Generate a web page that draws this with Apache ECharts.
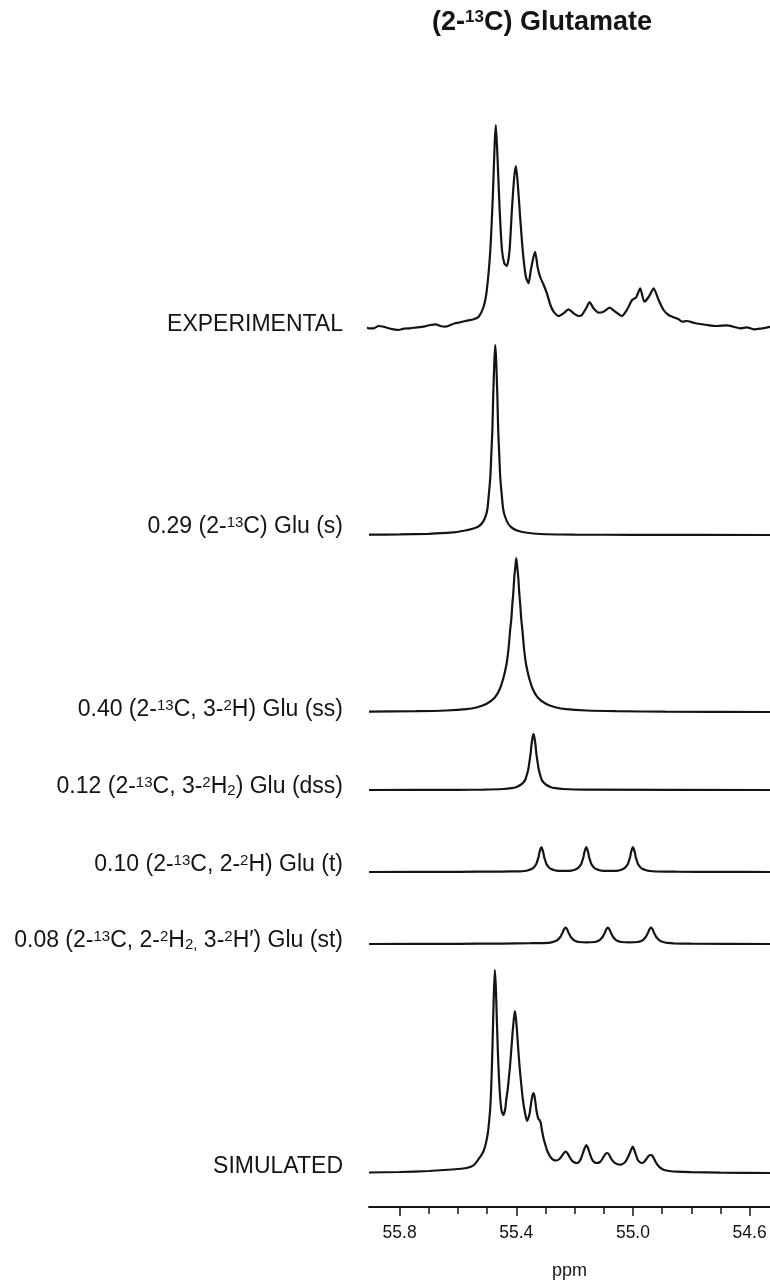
<!DOCTYPE html>
<html><head><meta charset="utf-8">
<script src="https://cdn.jsdelivr.net/npm/echarts@6/dist/echarts.min.js"></script>
<style>html,body{margin:0;padding:0;background:#fff}#c{width:770px;height:1282px}</style>
</head><body><div id="c"></div>
<script>
// ---- DATA (ppm, intensity) ----
const chartTitle = '{t|(2-}{ts|13}{t|C) Glutamate}';
const traceLabels = [
  '{n|EXPERIMENTAL}',
  '{n|0.29 (2-}{sup|13}{n|C) Glu (s)}',
  '{n|0.40 (2-}{sup|13}{n|C, 3-}{sup|2}{n|H) Glu (ss)}',
  '{n|0.12 (2-}{sup|13}{n|C, 3-}{sup|2}{n|H}{sub|2}{n|) Glu (dss)}',
  '{n|0.10 (2-}{sup|13}{n|C, 2-}{sup|2}{n|H) Glu (t)}',
  '{n|0.08 (2-}{sup|13}{n|C, 2-}{sup|2}{n|H}{sub|2,}{n| 3-}{sup|2}{n|H\u2032) Glu (st)}',
  '{n|SIMULATED}'
];
const axisName = 'ppm';
const tickValues = [55.8, 55.4, 55.0, 54.6];
const minorTickValues = [55.8, 55.7, 55.6, 55.5, 55.4, 55.3, 55.2, 55.1, 55.0, 54.9, 54.8, 54.7, 54.6];

const expData = [[55.923,3.3],[55.906,1.7],[55.889,1.7],[55.872,4.0],[55.855,3.3],[55.838,1.7],[55.821,0.7],[55.804,0],[55.786,1.3],[55.763,1.7],[55.741,2.7],[55.718,3.3],[55.695,5.0],[55.675,5.7],[55.661,4.0],[55.643,3.3],[55.626,5.0],[55.610,6.7],[55.598,7.3],[55.586,8.3],[55.569,9.3],[55.546,10.7],[55.529,13.3],[55.512,23.3],[55.501,40],[55.489,80],[55.480,137],[55.474,187],[55.470,205],[55.464,170],[55.457,120],[55.449,80],[55.441,66.7],[55.432,64],[55.423,80],[55.415,120],[55.407,153],[55.401,164],[55.394,143],[55.386,110],[55.377,76.7],[55.367,53],[55.358,46.7],[55.350,60],[55.341,73],[55.335,78],[55.327,63],[55.318,53],[55.306,45],[55.295,36.7],[55.283,25],[55.272,18.3],[55.255,14],[55.238,16.7],[55.221,20.7],[55.203,16.7],[55.186,14],[55.175,15],[55.158,23],[55.149,28],[55.135,21.7],[55.118,17.3],[55.101,18.3],[55.080,22.3],[55.061,18.3],[55.038,14],[55.021,20],[55.003,30],[54.989,32.7],[54.975,41.7],[54.961,28.3],[54.946,33],[54.929,41.7],[54.912,30],[54.895,20],[54.878,15],[54.861,12.7],[54.843,10.7],[54.832,8.3],[54.815,9],[54.792,7.3],[54.769,6],[54.746,5],[54.712,4],[54.678,4.7],[54.655,3.3],[54.632,1.7],[54.609,2.7],[54.586,0.7],[54.564,1.3],[54.529,3.3]];

const sData = [[55.905,0.3],[55.80,0.6],[55.70,1.2],[55.626,2.3],[55.575,4.5],[55.547,6.5],[55.530,8.5],[55.517,12],[55.506,18],[55.499,26],[55.493,44],[55.489,58],[55.486,78],[55.482,105],[55.479,140],[55.475,175],[55.472,190],[55.469,175],[55.465,140],[55.462,105],[55.458,78],[55.455,58],[55.451,44],[55.445,26],[55.438,18],[55.427,11],[55.414,7],[55.397,4.5],[55.369,2.5],[55.318,1.0],[55.20,0.4],[55.00,0.2],[54.53,0]];

const ssData = [[55.905,0.4],[55.743,0.8],[55.64,1.5],[55.571,2.8],[55.537,4.5],[55.503,8],[55.475,14],[55.458,22],[55.445,33],[55.434,47],[55.427,62],[55.421,82],[55.417,93],[55.414,106],[55.410,120],[55.407,134],[55.403,146],[55.400,154],[55.397,146],[55.393,134],[55.390,120],[55.386,106],[55.383,93],[55.379,82],[55.373,62],[55.366,47],[55.355,33],[55.342,22],[55.325,14],[55.297,8],[55.263,4.5],[55.229,2.8],[55.16,1.5],[55.057,0.8],[54.89,0.3],[54.53,0]];

const dssData = [[55.905,0],[55.60,0.2],[55.512,0.4],[55.444,1],[55.416,1.8],[55.399,3],[55.386,5],[55.375,7.7],[55.368,11],[55.362,17],[55.358,22],[55.355,28],[55.351,36],[55.348,45],[55.344,52.7],[55.341,56],[55.338,52.7],[55.334,45],[55.331,36],[55.327,28],[55.324,22],[55.320,17],[55.314,11],[55.307,7.7],[55.296,5],[55.283,3],[55.266,1.8],[55.238,1],[55.17,0.4],[54.53,0]];

const tData = [[55.905,0],[55.60,0.2],[55.45,0.4],[55.389,0.7],[55.372,1.0],[55.359,1.7],[55.348,2.9],[55.341,4.3],[55.335,6.3],[55.331,8.2],[55.328,10.9],[55.324,14.4],[55.321,18.9],[55.317,23.1],[55.314,25],[55.311,23.1],[55.307,18.9],[55.304,14.4],[55.300,10.9],[55.297,8.2],[55.293,6.3],[55.287,4.3],[55.280,2.9],[55.269,1.8],[55.256,1.2],[55.237,1.1],[55.218,1.2],[55.205,1.8],[55.194,3.0],[55.187,4.4],[55.181,6.3],[55.177,8.2],[55.174,10.9],[55.170,14.4],[55.167,18.9],[55.163,23.1],[55.160,25],[55.157,23.1],[55.153,18.9],[55.150,14.4],[55.146,10.9],[55.143,8.2],[55.139,6.3],[55.133,4.3],[55.126,2.9],[55.115,1.8],[55.102,1.2],[55.080,1.1],[55.058,1.2],[55.045,1.8],[55.034,3.0],[55.027,4.4],[55.021,6.3],[55.017,8.2],[55.014,10.9],[55.010,14.4],[55.007,18.9],[55.003,23.1],[55.000,25],[54.997,23.1],[54.993,18.9],[54.990,14.4],[54.986,10.9],[54.983,8.2],[54.979,6.3],[54.973,4.3],[54.966,2.9],[54.955,1.7],[54.942,1.0],[54.925,0.6],[54.85,0.3],[54.70,0.1],[54.53,0]];

const stData = [[55.905,0],[55.60,0.2],[55.45,0.4],[55.35,0.8],[55.289,1.2],[55.276,1.9],[55.265,2.9],[55.258,4.1],[55.252,5.9],[55.248,7.4],[55.245,9.2],[55.241,11.4],[55.238,13.8],[55.234,15.7],[55.231,16.5],[55.228,15.7],[55.224,13.8],[55.221,11.4],[55.217,9.2],[55.214,7.4],[55.210,5.9],[55.204,4.1],[55.197,2.9],[55.186,2.0],[55.159,1.6],[55.131,2.0],[55.120,2.9],[55.113,4.1],[55.107,5.9],[55.103,7.4],[55.100,9.2],[55.096,11.4],[55.093,13.8],[55.089,15.7],[55.086,16.5],[55.083,15.7],[55.079,13.8],[55.076,11.4],[55.072,9.2],[55.069,7.4],[55.065,5.9],[55.059,4.1],[55.052,2.9],[55.041,2.0],[55.012,1.6],[54.983,2.0],[54.972,2.9],[54.965,4.1],[54.959,5.9],[54.955,7.4],[54.952,9.2],[54.948,11.4],[54.945,13.8],[54.941,15.7],[54.938,16.5],[54.935,15.7],[54.931,13.8],[54.928,11.4],[54.924,9.2],[54.921,7.4],[54.917,5.9],[54.911,4.1],[54.904,2.8],[54.893,1.8],[54.880,1.1],[54.86,0.7],[54.80,0.3],[54.53,0]];

const simData = [[55.905,0.5],[55.80,1.0],[55.70,2.0],[55.62,3.5],[55.57,5],[55.545,8],[55.524,16],[55.512,22],[55.504,30],[55.4975,40],[55.493,52],[55.489,66],[55.486,85],[55.483,112],[55.480,145],[55.477,178],[55.4735,203],[55.470,185],[55.4666,153],[55.4632,122],[55.4598,98],[55.4564,80],[55.453,68],[55.4495,61],[55.444,58],[55.438,64],[55.434,74],[55.4288,85],[55.4255,95],[55.422,105],[55.4187,117],[55.4153,130],[55.4119,143],[55.4084,154],[55.405,162],[55.4016,156],[55.3981,144],[55.3947,130],[55.3913,116],[55.3879,104],[55.3844,93],[55.3776,74],[55.3707,61],[55.363,52],[55.3545,59],[55.351,66],[55.3475,73],[55.344,78],[55.341,80],[55.3376,77],[55.334,70],[55.331,63],[55.327,57],[55.324,54],[55.320,53],[55.316,50],[55.312,43],[55.306,34],[55.300,28],[55.295,23],[55.287,18],[55.280,15],[55.272,13],[55.262,12.5],[55.252,14],[55.245,16.5],[55.238,19.5],[55.231,21.3],[55.224,19.5],[55.217,16],[55.210,12.8],[55.200,10.5],[55.192,10],[55.185,11],[55.178,14.5],[55.172,19.5],[55.166,24.5],[55.160,28],[55.154,25],[55.148,19.5],[55.141,14],[55.133,11],[55.123,10],[55.113,11],[55.106,13.5],[55.099,17],[55.093,19.5],[55.088,20],[55.082,18.5],[55.075,14.5],[55.066,11],[55.055,9],[55.043,8.3],[55.030,10],[55.022,13],[55.016,16.5],[55.010,20.5],[55.005,24],[55.001,26.3],[54.996,23.5],[54.990,18.5],[54.984,13.5],[54.977,11],[54.969,10],[54.962,11],[54.955,13.5],[54.948,16.5],[54.942,18],[54.938,18],[54.933,17],[54.927,14],[54.921,10.5],[54.914,7.5],[54.905,5],[54.893,3],[54.875,2],[54.85,1.3],[54.80,0.8],[54.70,0.4],[54.53,0]];

// ---- LAYOUT ----
const FONT = "'Liberation Sans', Arial, Helvetica, sans-serif";
const INK = '#141414';
const X_MIN = 54.53, X_MAX = 55.905;
const LEFT = 369;
const seriesData = [expData, sData, ssData, dssData, tData, stData, simData];
const baselines = [330, 535, 712, 790, 872, 944, 1173];
const labelMid = [325, 527, 710, 787, 865, 941, 1167];
const AXIS_Y = 1207;

const rich = {
  n: {fontFamily: FONT, fontWeight: 'normal', fontSize: 23, lineHeight: 23, color: INK, verticalAlign: 'middle'},
  sup: {fontFamily: FONT, fontWeight: 'normal', fontSize: 15, lineHeight: 14, color: INK, verticalAlign: 'top'},
  sub: {fontFamily: FONT, fontWeight: 'normal', fontSize: 15, lineHeight: 8, color: INK, verticalAlign: 'bottom'}
};

const grids = [], xAxes = [], yAxes = [], series = [], titles = [];
seriesData.forEach((d, i) => {
  grids.push({left: LEFT, right: 0, top: baselines[i] - 215, height: 220, containLabel: false});
  xAxes.push({type: 'value', gridIndex: i, min: X_MIN, max: X_MAX, inverse: true, show: false});
  yAxes.push({type: 'value', gridIndex: i, min: -5, max: 215, show: false});
  series.push({
    type: 'line', xAxisIndex: i, yAxisIndex: i, data: d,
    showSymbol: false, symbol: 'none', smooth: 0.2, clip: false,
    lineStyle: {color: INK, width: 2.2}, silent: true, animation: false
  });
  titles.push({
    text: traceLabels[i], right: 770 - 343, top: labelMid[i] - 11.5, padding: 0,
    textStyle: {rich: rich, fontFamily: FONT, fontWeight: 'normal', fontSize: 23, color: INK}
  });
});
titles.push({
  text: chartTitle, left: 432, top: 9, padding: 0,
  textStyle: {fontFamily: FONT, fontWeight: 'bold', fontSize: 27, color: INK,
    rich: {
      t: {fontFamily: FONT, fontWeight: 'bold', fontSize: 27, lineHeight: 27, color: INK, verticalAlign: 'middle'},
      ts: {fontFamily: FONT, fontWeight: 'bold', fontSize: 17, lineHeight: 17, color: INK, verticalAlign: 'top'}
    }}
});

// axis grids (major + minor ticks)
const gi = grids.length;
grids.push({left: LEFT, right: 0, top: AXIS_Y - 50, height: 50});
grids.push({left: LEFT, right: 0, top: AXIS_Y - 50, height: 50});
xAxes.push({
  type: 'value', gridIndex: gi, min: X_MIN, max: X_MAX, inverse: true, position: 'bottom',
  axisLine: {show: true, lineStyle: {color: INK, width: 2}},
  axisTick: {show: true, customValues: tickValues, length: 9, lineStyle: {color: INK, width: 1.5}},
  axisLabel: {show: true, customValues: tickValues, formatter: v => v.toFixed(1), margin: 17,
    fontFamily: FONT, fontSize: 17.5, color: INK},
  splitLine: {show: false},
  name: axisName, nameLocation: 'middle', nameGap: 55,
  nameTextStyle: {fontFamily: FONT, fontSize: 18, color: INK}
});
xAxes.push({
  type: 'value', gridIndex: gi + 1, min: X_MIN, max: X_MAX, inverse: true, position: 'bottom',
  axisLine: {show: false},
  axisTick: {show: true, customValues: minorTickValues, length: 7, lineStyle: {color: INK, width: 1.5}},
  axisLabel: {show: false}, splitLine: {show: false}
});
yAxes.push({type: 'value', gridIndex: gi, min: 0, max: 1, show: false});
yAxes.push({type: 'value', gridIndex: gi + 1, min: 0, max: 1, show: false});

const chart = echarts.init(document.getElementById('c'), null, {renderer: 'canvas'});
chart.setOption({
  backgroundColor: '#fff',
  animation: false,
  title: titles,
  grid: grids,
  xAxis: xAxes,
  yAxis: yAxes,
  series: series
});
</script></body></html>
